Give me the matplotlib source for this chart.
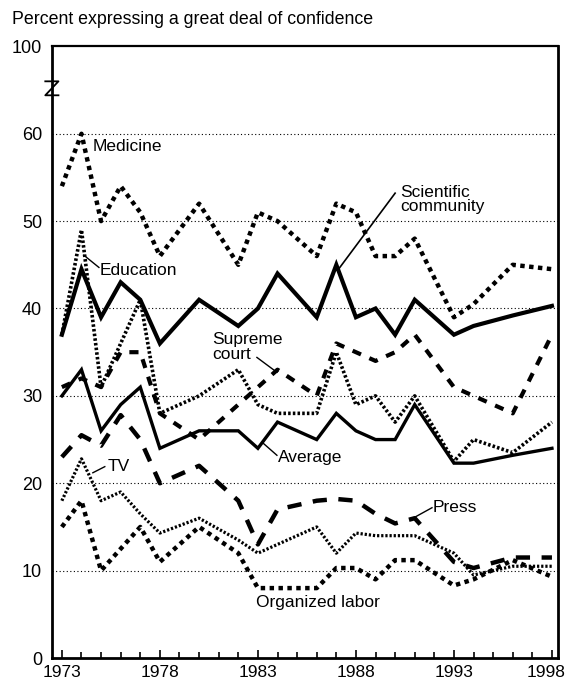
import matplotlib.pyplot as plt
import matplotlib.transforms as mtransforms
from matplotlib.ticker import MultipleLocator, FixedLocator

plt.rcParams['font.family'] = ['Liberation Sans', 'DejaVu Sans']

# survey years
years = [1973, 1974, 1975, 1976, 1977, 1978, 1980, 1982, 1983, 1984,
         1986, 1987, 1988, 1989, 1990, 1991, 1993, 1994, 1996, 1998]

# percent expressing a great deal of confidence
medicine = [54, 60, 50, 54, 51, 46, 52, 45, 51, 50,
            46, 52, 51, 46, 46, 48, 39, 40.5, 45, 44.5]
science = [37, 44.5, 39, 43, 41, 36, 41, 38, 40, 44,
           39, 45, 39, 40, 37, 41, 37, 38, 39.2, 40.3]
education = [37, 49, 31, 36, 41, 28, 30, 33, 29, 28,
             28, 35, 29, 30, 27, 30, 22.5, 25, 23.5, 27]
supreme = [31, 32, 31, 35, 35, 28, 25, 29, 31, 33,
           30, 36, 35, 34, 35, 37, 31, 30, 28, 37]
average = [30, 33, 26, 29, 31, 24, 26, 26, 24, 27,
           25, 28, 26, 25, 25, 29, 22.3, 22.3, 23.2, 24]
press = [23, 25.5, 24.3, 27.8, 25, 20, 22, 18, 13, 17,
         18, 18.2, 18, 16.5, 15.4, 16, 11, 10.3, 11.5, 11.5]
tv = [18, 22.8, 18, 19, 16.5, 14.3, 16, 13.5, 12, 13,
      15, 12, 14.3, 14, 14, 14, 12, 9.5, 10.5, 10.5]
labor = [15, 18, 10, 12.5, 15, 11, 15, 12, 8, 8,
         8, 10.3, 10.3, 9, 11.2, 11.2, 8.3, 9, 11.2, 9.3]

ytick_pos = [0, 10, 20, 30, 40, 50, 60, 70]
ytick_lab = ['0', '10', '20', '30', '40', '50', '60', '100']

fig = plt.figure(figsize=(5.7, 6.88), dpi=100)
ax = fig.add_axes([0.091, 0.0436, 0.888, 0.889])

for g in [10, 20, 30, 40, 50, 60]:
    ax.axhline(g, color='black', lw=0.8, ls=(0, (1, 2.2)), zorder=1)

fat_dots = (0, (1, 1))
fine_dots = (0, (0.7, 0.6))
ax.plot(years, medicine, color='black', lw=3.2, ls=fat_dots)
ax.plot(years, labor, color='black', lw=3.2, ls=fat_dots)
ax.plot(years, education, color='black', lw=2.6, ls=fine_dots)
ax.plot(years, tv, color='black', lw=2.3, ls=fine_dots)
ax.plot(years, science, color='black', lw=3.0, solid_joinstyle='miter')
ax.plot(years, average, color='black', lw=2.4, solid_joinstyle='miter')
ax.plot(years, supreme, color='black', lw=3.0, ls=(0, (2.2, 2.2)))
ax.plot(years, press, color='black', lw=3.2, ls=(0, (3.2, 2.6)))

# series labels with leader lines
fs = 12.5
ax.text(1974.58, 58.5, 'Medicine', fontsize=fs, va='center')
ax.text(1974.95, 44.4, 'Education', fontsize=fs, va='center')
ax.plot([1974.12, 1974.89], [46.1, 44.7], color='black', lw=1)
ax.text(1990.24, 52.5, 'Scientific\ncommunity', fontsize=fs, va='center',
        linespacing=0.95)
ax.plot([1987.08, 1990.0], [44.4, 53.2], color='black', lw=1.2)
ax.text(1980.65, 35.6, 'Supreme\ncourt', fontsize=fs, va='center',
        linespacing=0.95)
ax.plot([1982.95, 1983.97], [34.4, 32.7], color='black', lw=1)
ax.text(1984.02, 23.0, 'Average', fontsize=fs, va='center')
ax.plot([1983.26, 1983.97], [24.6, 23.2], color='black', lw=1)
ax.text(1975.35, 21.9, 'TV', fontsize=fs, va='center')
ax.plot([1974.58, 1975.19], [21.2, 21.9], color='black', lw=1)
ax.text(1991.93, 17.2, 'Press', fontsize=fs, va='center')
ax.plot([1990.91, 1991.88], [16.0, 17.2], color='black', lw=1)
ax.text(1982.9, 6.3, 'Organized labor', fontsize=fs, va='center')

# axis break mark on the left spine
brk = ax.get_yaxis_transform()
ax.plot([-0.013, 0.013, -0.013, 0.013], [66.0, 66.0, 64.4, 64.4],
        color='black', lw=1.3, transform=brk, clip_on=False)

ax.set_xlim(1972.49, 1998.31)
ax.set_ylim(0, 70)
ax.xaxis.set_major_locator(FixedLocator([1973, 1978, 1983, 1988, 1993, 1998]))
ax.xaxis.set_minor_locator(MultipleLocator(1))
ax.tick_params(axis='x', which='major', direction='in', length=6, width=1.2,
               labelsize=12.5, pad=5)
ax.tick_params(axis='x', which='minor', direction='in', length=4, width=1.2)
ax.set_yticks(ytick_pos)
ax.set_yticklabels(ytick_lab)
ax.tick_params(axis='y', length=0, labelsize=13, pad=7)

# pull the last year label in so it stays inside the figure
fig.canvas.draw()
last = ax.get_xticklabels()[-1]
last.set_transform(last.get_transform() +
                   mtransforms.ScaledTranslation(-4 / 72, 0, fig.dpi_scale_trans))

for side in ['left', 'bottom', 'right']:
    ax.spines[side].set_linewidth(2)
ax.spines['top'].set_linewidth(1.6)

fig.text(0.021, 0.971, 'Percent expressing a great deal of confidence',
         fontsize=12.8, va='center', ha='left')

fig.savefig('out.png', dpi=100)
